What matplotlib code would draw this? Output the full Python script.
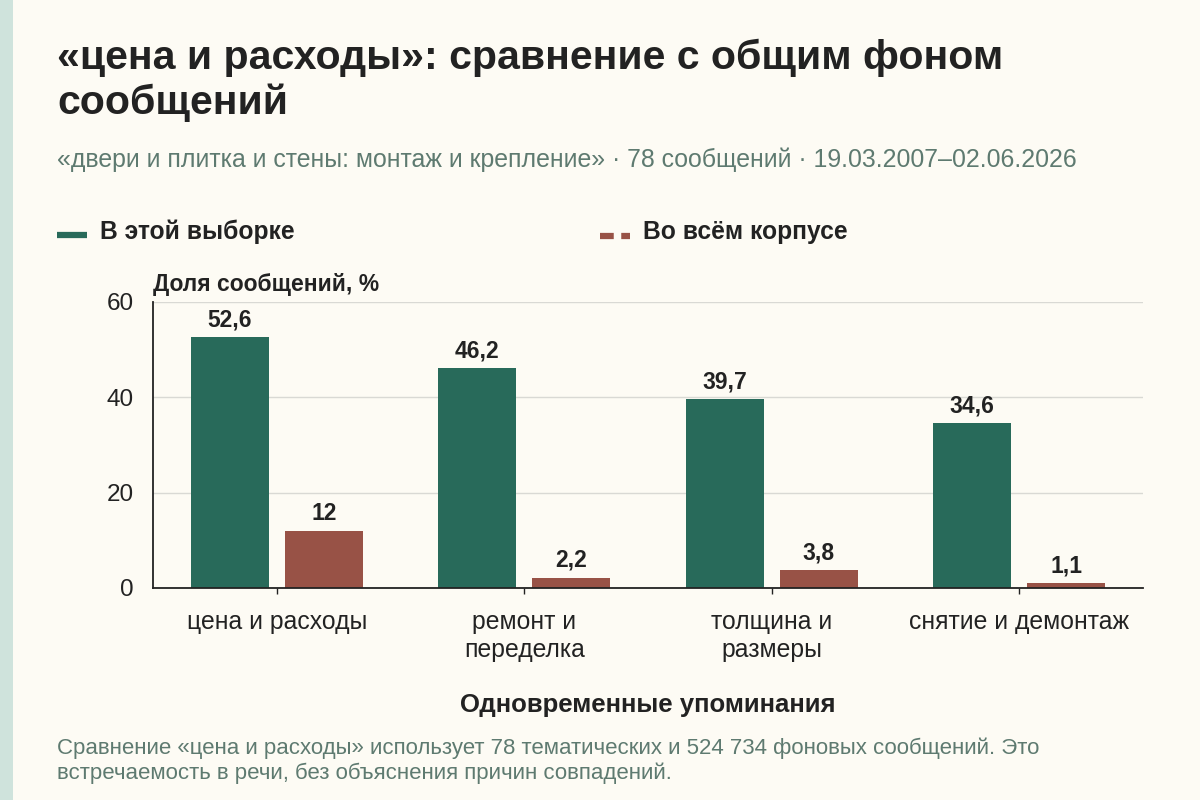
import numpy as np
import matplotlib
matplotlib.use('Agg')
from matplotlib import pyplot as plt
from matplotlib.lines import Line2D
from matplotlib.patches import Rectangle

categories = ['цена и расходы', 'ремонт и\nпеределка', 'толщина и\nразмеры', 'снятие и демонтаж']
sample_share = [52.6, 46.2, 39.7, 34.6]
corpus_share = [12, 2.2, 3.8, 1.1]
y_ticks = [0, 20, 40, 60]

green = '#286a5a'
red = '#985246'
bg = '#fdfbf4'
ink = '#222222'
muted = '#5e7a70'

plt.rcParams['font.family'] = ['Liberation Sans', 'DejaVu Sans']

fig = plt.figure(figsize=(12, 8), dpi=100, facecolor=bg)
fig.patches.append(Rectangle((0, 0), 13 / 1200, 1, transform=fig.transFigure,
                             facecolor='#cfe3dc', edgecolor='none'))

ax = fig.add_axes([153 / 1200, 1 - 588 / 800, 990 / 1200, 286 / 800])
ax.set_facecolor(bg)

x = np.arange(len(categories))
w = 0.315
off = 0.19
b1 = ax.bar(x - off, sample_share, w, color=green)
b2 = ax.bar(x + off, corpus_share, w, color=red)

def fmt(v):
    return ('%g' % v).replace('.', ',')

for bars, vals in ((b1, sample_share), (b2, corpus_share)):
    for b, v in zip(bars, vals):
        ax.annotate(fmt(v), (b.get_x() + b.get_width() / 2, v), xytext=(0, 4),
                    textcoords='offset points', ha='center', va='bottom',
                    fontsize=16.5, fontweight='bold', color=ink)

ax.set_xlim(-0.5, 3.5)
ax.set_ylim(0, 60)
ax.set_yticks(y_ticks)
ax.set_xticks(x)
ax.set_xticklabels(categories, fontsize=17.8, color=ink, linespacing=1.2)
ax.tick_params(axis='y', length=0, labelsize=17.5, labelcolor=ink, pad=14)
ax.tick_params(axis='x', length=4, width=1, color=ink, pad=12)
ax.grid(axis='y', color='#d9d9d4', linewidth=1)
ax.set_axisbelow(True)
for s in ('top', 'right'):
    ax.spines[s].set_visible(False)
ax.spines['left'].set_color(ink)
ax.spines['bottom'].set_color(ink)
ax.spines['left'].set_linewidth(1.3)
ax.spines['bottom'].set_linewidth(1.3)

ax.set_xlabel('Одновременные упоминания', fontsize=18.5, fontweight='bold', color=ink, labelpad=22)
fig.text(153 / 1200, 1 - 285 / 800, 'Доля сообщений, %', fontsize=16.5, fontweight='bold',
         color=ink, va='center')

fig.text(57 / 1200, 1 - 58 / 800, '«цена и расходы»: сравнение с общим фоном',
         fontsize=29.5, fontweight='bold', color=ink, va='center')
fig.text(57 / 1200, 1 - 103 / 800, 'сообщений',
         fontsize=29.5, fontweight='bold', color=ink, va='center')
fig.text(57 / 1200, 1 - 160 / 800,
         '«двери и плитка и стены: монтаж и крепление» · 78 сообщений · 19.03.2007–02.06.2026',
         fontsize=17.9, color=muted, va='center')

fig.lines.append(Line2D([57 / 1200, 87 / 1200], [1 - 235 / 800] * 2, transform=fig.transFigure,
                        color=green, linewidth=4.5, solid_capstyle='butt'))
fig.text(100 / 1200, 1 - 232 / 800, 'В этой выборке', fontsize=17.7, fontweight='bold',
         color=ink, va='center')
fig.lines.append(Line2D([600 / 1200, 630 / 1200], [1 - 236 / 800] * 2, transform=fig.transFigure,
                        color=red, linewidth=4.5, linestyle=(0, (2.2, 1.2))))
fig.text(643 / 1200, 1 - 232 / 800, 'Во всём корпусе', fontsize=17.7, fontweight='bold',
         color=ink, va='center')

fig.text(57 / 1200, 1 - 748 / 800,
         'Сравнение «цена и расходы» использует 78 тематических и 524 734 фоновых сообщений. Это',
         fontsize=16, color=muted, va='center')
fig.text(57 / 1200, 1 - 773 / 800,
         'встречаемость в речи, без объяснения причин совпадений.',
         fontsize=16, color=muted, va='center')

fig.savefig('out.png', dpi=100, facecolor=bg)
